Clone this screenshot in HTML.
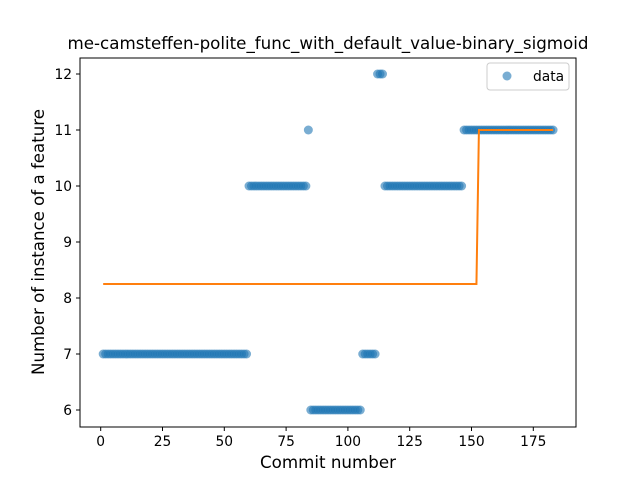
<!DOCTYPE html>
<html><head><meta charset="utf-8"><style>
body{margin:0;background:#fff;font-family:"Liberation Sans","DejaVu Sans",sans-serif}
svg text{font-family:"DejaVu Sans","Liberation Sans",sans-serif}
</style></head><body>
<svg id="c" width="640" height="480" xmlns="http://www.w3.org/2000/svg">
<rect width="640" height="480" fill="#fff"/>
<g id="marks"></g>
<rect x="80" y="58" width="496" height="369" fill="none" stroke="#000" stroke-width="1"/>
<g id="axes"></g>
<text x="328" y="49" font-size="16.6" text-anchor="middle" textLength="521" lengthAdjust="spacingAndGlyphs">me-camsteffen-polite_func_with_default_value-binary_sigmoid</text>
<text x="328" y="468" font-size="16.6" text-anchor="middle" textLength="136" lengthAdjust="spacingAndGlyphs">Commit number</text>
<text transform="translate(44,242) rotate(-90)" font-size="16.6" text-anchor="middle" textLength="266" lengthAdjust="spacingAndGlyphs">Number of instance of a feature</text>
<g>
<rect x="487" y="63" width="82" height="27" rx="3" fill="#fff" stroke="#ccc"/>
<circle cx="507" cy="76" r="4.5" fill="#1f77b4" fill-opacity="0.6"/>
<text x="533" y="81" font-size="13.8">data</text>
</g>
</svg>
<script>
const segStarts=[1,60,84,85,106,112,115,147];
const segEnds=[59,83,84,105,111,114,146,183];
const segValues=[7,10,11,6,7,12,10,11];
const fitX=[1,152,153,183];
const fitY=[8.25,8.25,11,11];
const xTicks=[0,25,50,75,100,125,150,175];
const yTicks=[6,7,8,9,10,11,12];
const X=v=>100.7+v*2.472, Y=v=>410-(v-6)*56;
const NS="http://www.w3.org/2000/svg";
const marks=document.getElementById('marks'), axes=document.getElementById('axes');
for(let s=0;s<segStarts.length;s++){for(let i=segStarts[s];i<=segEnds[s];i++){
 const c=document.createElementNS(NS,'circle');
 
 
 c.setAttribute('cx',X(i));c.setAttribute('cy',Y(segValues[s]));c.setAttribute('r',4.5);
 c.setAttribute('fill','#1f77b4');c.setAttribute('fill-opacity','0.6');marks.appendChild(c);}}
const p=document.createElementNS(NS,'polyline');


p.setAttribute('points',fitX.map((x,i)=>X(x)+','+Y(fitY[i])).join(' '));
p.setAttribute('fill','none');p.setAttribute('stroke','#ff7f0e');p.setAttribute('stroke-width','2');
marks.appendChild(p);
xTicks.forEach(t=>{const l=document.createElementNS(NS,'line');
 
 
 l.setAttribute('x1',X(t));l.setAttribute('x2',X(t));l.setAttribute('y1',427);l.setAttribute('y2',431);l.setAttribute('stroke','#000');axes.appendChild(l);
 const tx=document.createElementNS(NS,'text');
 
 
 tx.setAttribute('x',X(t));tx.setAttribute('y',446);tx.setAttribute('font-size','13.8');tx.setAttribute('text-anchor','middle');tx.textContent=t;axes.appendChild(tx);});
yTicks.forEach(t=>{const l=document.createElementNS(NS,'line');
 
 
 l.setAttribute('x1',76);l.setAttribute('x2',80);l.setAttribute('y1',Y(t));l.setAttribute('y2',Y(t));l.setAttribute('stroke','#000');axes.appendChild(l);
 const tx=document.createElementNS(NS,'text');
 
 
 tx.setAttribute('x',72);tx.setAttribute('y',Y(t)+5);tx.setAttribute('font-size','13.8');tx.setAttribute('text-anchor','end');tx.textContent=t;axes.appendChild(tx);});
</script>
</body></html>
